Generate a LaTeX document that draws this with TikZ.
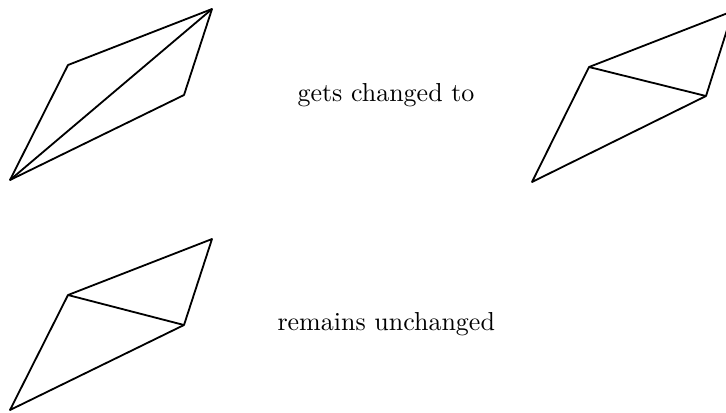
\documentclass[tikz,border=0pt]{standalone}
\usepackage{tikz}

\begin{document}
\begin{tikzpicture}[x=0.385pt,y=-0.385pt,
  edge/.style={line width=0.7pt, line join=round}]
\clip (0,0) rectangle (726,412);
% quadrilateral before the flip
\coordinate (a1) at (10,180);
\coordinate (a2) at (68,65);
\coordinate (a3) at (212,9);
\coordinate (a4) at (184,95);
\draw[edge] (a1) -- (a2) -- (a3) -- (a4) -- cycle;
\draw[edge] (a1) -- (a3);
% quadrilateral after the flip
\coordinate (b1) at (532,182);
\coordinate (b2) at (589,67);
\coordinate (b3) at (733,11);
\coordinate (b4) at (706,96);
\draw[edge] (b1) -- (b2) -- (b3) -- (b4) -- cycle;
\draw[edge] (b2) -- (b4);
% quadrilateral kept as it is
\coordinate (c1) at (10,410);
\coordinate (c2) at (68,295);
\coordinate (c3) at (212,239);
\coordinate (c4) at (184,325);
\draw[edge] (c1) -- (c2) -- (c3) -- (c4) -- cycle;
\draw[edge] (c2) -- (c4);
% labels
\node[anchor=base west, inner sep=0pt] (changed) at (297,101) {gets changed to};
\node[anchor=base west, inner sep=0pt] (kept) at (277,330) {remains unchanged};
\end{tikzpicture}
\end{document}
